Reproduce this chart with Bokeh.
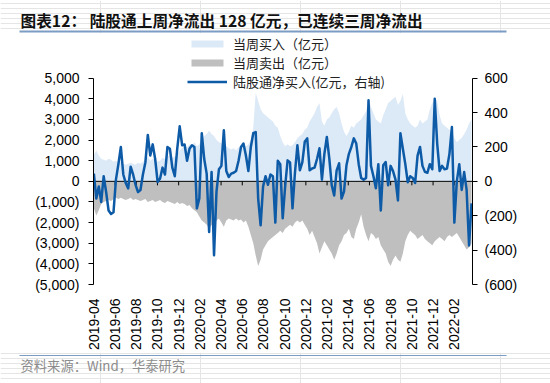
import math
from bokeh.plotting import figure
from bokeh.layouts import column
from bokeh.models import (Range1d, LinearAxis, FixedTicker, Legend, LegendItem,
                          Label, BoxAnnotation)
from bokeh.embed import file_html
from bokeh.resources import INLINE

# ---------------- data (weekly, Apr-2019 .. Mar-2022) ----------------
buy = [1300, 1500, 1250, 1100, 1050, 1000, 1100, 1050, 950, 1000,
       900, 950, 850, 800, 850, 900, 850, 800, 900, 850,
       950, 1000, 1200, 1000, 1100, 1050, 950, 1000, 1150, 1100,
       1200, 1250, 1150, 1200, 1300, 1500, 1600, 1700, 1650, 1800,
       1750, 1900, 1700, 1800, 2100, 2200, 2300, 2450, 2300, 2200,
       2000, 1900, 1850, 1950, 1700, 1600, 1550, 1600, 1500, 1650,
       1700, 1750, 1700, 1800, 2000, 2600, 4300, 3900, 3500, 3300,
       3200, 3100, 3000, 2900, 2700, 2600, 2200, 1900, 1700, 1800,
       1700, 1750, 1900, 2100, 2200, 2300, 2500, 2600, 2900, 3100,
       3300, 3600, 3780, 2900, 2700, 3000, 3100, 3300, 3500, 3600,
       3300, 2800, 2400, 2200, 2400, 2700, 2600, 2800, 2900, 3000,
       3200, 3400, 4000, 3600, 3300, 3000, 2900, 2800, 3200, 3500,
       3800, 3900, 4000, 4100, 3700, 3900, 4250, 3300, 3000, 2800,
       2700, 2600, 2700, 3000, 2800, 2900, 3000, 3500, 3800, 4000,
       3900, 3200, 2800, 2700, 2600, 2500, 2400, 2100, 1900, 2000,
       2100, 2300, 2500, 2800, 3000]

sell = [-1300, -1650, -1400, -1100, -1000, -950, -900, -950, -850, -800,
        -850, -800, -850, -900, -850, -800, -900, -850, -900, -950,
        -900, -850, -1000, -950, -900, -1000, -950, -900, -1000, -1050,
        -950, -1000, -1050, -1100, -1000, -1100, -1050, -1100, -1200, -1150,
        -1300, -1400, -1500, -1700, -1900, -2000, -2100, -2300, -2100, -2200,
        -1900, -1800, -2000, -2200, -1900, -1800, -1850, -1900, -1800, -1900,
        -1850, -2000, -1900, -2200, -2600, -3000, -3600, -4100, -3800, -3300,
        -3100, -2900, -2800, -2700, -2600, -2500, -2400, -2500, -2300, -2200,
        -2100, -2200, -2000, -1900, -2000, -1900, -2100, -2300, -2600, -2400,
        -2700, -3000, -3500, -3200, -2900, -3100, -3300, -3500, -3800, -3500,
        -3100, -2900, -2600, -2500, -2300, -2700, -2800, -2300, -2000, -1600,
        -2200, -2600, -2900, -2500, -2600, -2800, -2700, -3100, -3300, -3500,
        -3900, -4100, -3800, -3600, -3800, -3900, -3500, -2900, -2600, -2400,
        -2500, -2600, -2800, -2700, -2600, -2800, -2900, -3000, -3100, -2900,
        -2800, -2700, -2800, -2900, -2700, -2600, -2700, -2600, -2500, -2700,
        -2900, -3100, -3300, -3200, -3000]

net = [45, -100, -30, -120, 30, -62, -170, -190, -180, 10,
       100, 200, 40, -10, -41, 85, 40, -20, -62, -50,
       40, 110, 270, 150, 215, 130, -4, 17, 80, 40,
       200, 190, 80, 30, 190, 320, 210, 214, 120, 190,
       210, 200, -157, -100, 280, 130, 45, -295, 54, -430,
       -60, 70, 90, 297, 60, 25, 45, 50, 60, 120,
       200, 220, 150, 60, 200, 280, 287, -100, -256, -30,
       30, -20, 40, 30, -240, 120, 100, -215, -30, 122,
       110, -157, 50, 210, 64, 110, 230, 250, 64, 75,
       80, 130, 192, 10, 160, 258, 134, -23, -82, 64,
       105, -100, -60, 93, 160, 200, 250, 220, 100, 20,
       10, 20, 472, 90, 30, -40, 100, -169, 93, 112,
       -23, 90, 60, 10, -111, 280, 190, 100, -5, 30,
       20, -10, 150, 200, 90, 55, 50, 100, 70, 480,
       220, 60, 90, 70, 75, 160, 316, -240, 0, 100,
       -50, 54, -50, -373, -128]

weeks = list(range(len(net)))

x_tick_pos = [0, 8.645, 17.29, 25.935, 34.58, 43.225, 51.87, 60.515, 69.16,
              77.805, 86.45, 95.095, 103.74, 112.385, 121.03, 129.675,
              138.32, 146.965]
x_tick_labels = ["2019-04", "2019-06", "2019-08", "2019-10", "2019-12",
                 "2020-02", "2020-04", "2020-06", "2020-08", "2020-10",
                 "2020-12", "2021-02", "2021-04", "2021-06", "2021-08",
                 "2021-10", "2021-12", "2022-02"]

left_ticks = [5000, 4000, 3000, 2000, 1000, 0, -1000, -2000, -3000, -4000, -5000]
left_labels = ["5,000", "4,000", "3,000", "2,000", "1,000", "0",
               "(1,000)", "(2,000)", "(3,000)", "(4,000)", "(5,000)"]
right_ticks = [600, 400, 200, 0, -200, -400, -600]
right_labels = ["600", "400", "200", "0", "(200)", "(400)", "(600)"]

legend_labels = ["当周买入（亿元）", "当周卖出（亿元）", "陆股通净买入(亿元，右轴)"]
title_text = "图表12：  陆股通上周净流出 128 亿元，已连续三周净流出"
source_text = "资料来源：Wind，华泰研究"

# ---------------- styles ----------------
BUY_C = "#dce9f7"
SELL_C = "#bfbfbf"
NET_C = "#0d5aa7"
RULE_C = "#7d9cc4"
NUM_FONT = "Liberation Sans"
CJK_FONT = "Noto Sans CJK SC"
W = 550


def blank(h):
    f = figure(width=W, height=h, output_backend="svg", toolbar_location=None,
               x_range=Range1d(0, W), y_range=Range1d(0, h),
               x_axis_location=None, y_axis_location=None,
               min_border=0, frame_align=False)
    f.outline_line_color = None
    f.border_fill_color = "white"
    f.background_fill_color = "white"
    return f


# ---------------- title strip ----------------
HT = 33
pt = blank(HT)
pt.add_layout(Label(x=20, y=HT - 20, text=title_text, text_font=CJK_FONT,
                    text_font_size="15.7px", text_font_style="bold",
                    text_color="#111111", text_baseline="middle", text_align="left"))
pt.add_layout(BoxAnnotation(left=19, right=506, top=HT - 30, bottom=HT - 32,
                            fill_color=RULE_C, fill_alpha=1, line_color=None))

# ---------------- main chart ----------------
HM = 319
p = figure(width=W, height=HM, output_backend="svg", toolbar_location=None,
           x_range=Range1d(-0.15, 154.4), y_range=Range1d(-5000, 7167),
           min_border_left=93, min_border_right=78, min_border_top=0,
           min_border_bottom=68, frame_align=False)
p.outline_line_color = None
p.grid.visible = False
p.background_fill_color = "white"
p.border_fill_color = "white"
p.extra_y_ranges = {"right": Range1d(-600, 860)}

r_buy = p.varea(x=weeks, y1=0, y2=buy, fill_color=BUY_C)
r_sell = p.varea(x=weeks, y1=0, y2=sell, fill_color=SELL_C)
p.segment(x0=[-0.15], y0=[0], x1=[154.4], y1=[0], line_color="black", line_width=1)
p.segment(x0=x_tick_pos, y0=[0] * len(x_tick_pos), x1=x_tick_pos,
          y1=[-194] * len(x_tick_pos), line_color="black", line_width=1)
r_net = p.line(x=weeks, y=net, y_range_name="right", line_color=NET_C,
               line_width=2.5, line_join="round")

yl = p.yaxis[0]
yl.ticker = FixedTicker(ticks=left_ticks)
yl.major_label_overrides = dict(zip(left_ticks, left_labels))
yl.bounds = (-5000, 5000)

yr = LinearAxis(y_range_name="right", ticker=FixedTicker(ticks=right_ticks),
                major_label_overrides=dict(zip(right_ticks, right_labels)),
                bounds=(-600, 600))
p.add_layout(yr, "right")

for ax in (yl, yr):
    ax.axis_line_color = "black"
    ax.axis_line_width = 1
    ax.major_tick_line_color = "black"
    ax.major_tick_out = 5
    ax.major_tick_in = 0
    ax.minor_tick_line_color = None
    ax.major_label_text_font = NUM_FONT
    ax.major_label_text_font_size = "14px"
    ax.major_label_text_color = "black"
yl.major_label_standoff = 9
yr.major_label_standoff = 7

xa = p.xaxis[0]
xa.ticker = FixedTicker(ticks=x_tick_pos)
xa.major_label_overrides = dict(zip(x_tick_pos, x_tick_labels))
xa.axis_line_color = None
xa.major_tick_line_color = None
xa.minor_tick_line_color = None
xa.major_label_orientation = math.pi / 2
xa.major_label_text_font = NUM_FONT
xa.major_label_text_font_size = "14px"
xa.major_label_text_color = "black"
xa.major_label_standoff = 8

legend = Legend(items=[LegendItem(label=legend_labels[0], renderers=[r_buy]),
                       LegendItem(label=legend_labels[1], renderers=[r_sell]),
                       LegendItem(label=legend_labels[2], renderers=[r_net])],
                location=(94, 193.5))
legend.label_text_font = CJK_FONT
legend.label_text_font_size = "13px"
legend.label_text_color = "#222222"
legend.glyph_width = 40
legend.glyph_height = 9
legend.label_height = 16
legend.label_standoff = 6
legend.spacing = 0
legend.padding = 0
legend.margin = 0
legend.border_line_color = None
legend.background_fill_alpha = 0
p.add_layout(legend, "center")

# ---------------- source strip ----------------
HS = 31
ps = blank(HS)
ps.add_layout(BoxAnnotation(left=19, right=506, top=HS - 2.4, bottom=HS - 3.6,
                            fill_color=RULE_C, fill_alpha=1, line_color=None))
ps.add_layout(Label(x=20, y=HS - 13, text=source_text, text_font=CJK_FONT,
                    text_font_size="13.3px", text_color="#8c8c8c",
                    text_baseline="middle", text_align="left"))

layout = column(pt, p, ps, spacing=0)
open("out.html", "w").write(file_html(layout, INLINE))
